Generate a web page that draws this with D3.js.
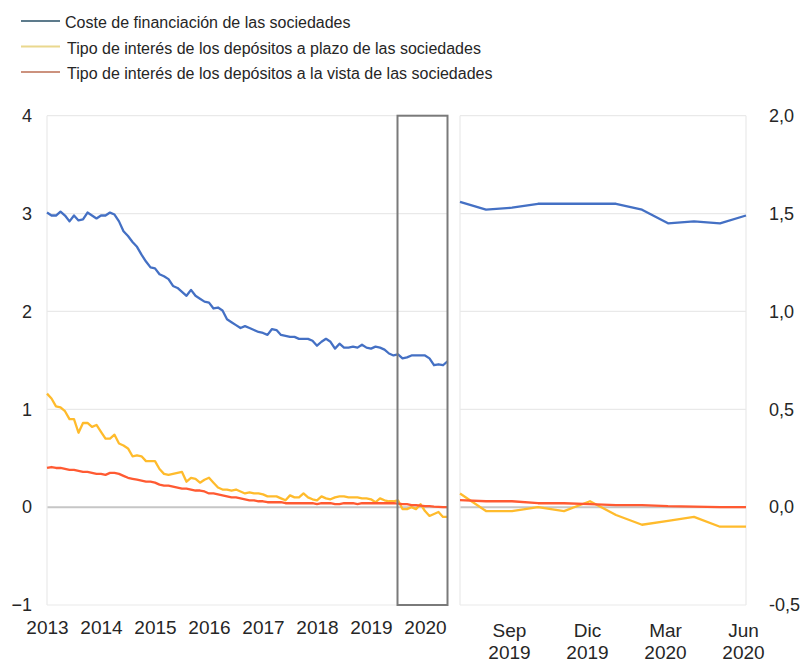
<!DOCTYPE html>
<html>
<head>
<meta charset="utf-8">
<script src="https://cdn.jsdelivr.net/npm/d3@7/dist/d3.min.js"></script>
<style>
  body { margin: 0; background: #fff; }
  svg { font-family: "Liberation Sans", Arial, sans-serif; }
</style>
</head>
<body>
<svg id="chart" width="803" height="662"></svg>
<script>
// monthly values, Jan 2013 .. Jun 2020
var coste = [3.01, 2.98, 2.98, 3.02, 2.98, 2.92, 2.98, 2.93, 2.94, 3.01, 2.98, 2.95,
             2.98, 2.98, 3.01, 2.99, 2.92, 2.82, 2.77, 2.71, 2.66, 2.58, 2.51, 2.45,
             2.44, 2.38, 2.36, 2.33, 2.26, 2.24, 2.20, 2.16, 2.22, 2.16, 2.13, 2.10,
             2.09, 2.03, 2.04, 2.01, 1.92, 1.89, 1.86, 1.83, 1.85, 1.83, 1.81, 1.79,
             1.78, 1.76, 1.82, 1.81, 1.76, 1.75, 1.74, 1.74, 1.72, 1.72, 1.72, 1.70,
             1.65, 1.69, 1.72, 1.69, 1.62, 1.67, 1.63, 1.63, 1.64, 1.63, 1.66, 1.63,
             1.62, 1.64, 1.63, 1.61, 1.57, 1.55, 1.56, 1.52, 1.53, 1.55, 1.55, 1.55,
             1.55, 1.52, 1.45, 1.46, 1.45, 1.49];
var plazo = [1.16, 1.11, 1.03, 1.02, 0.98, 0.90, 0.90, 0.76, 0.86, 0.86, 0.82, 0.84,
             0.77, 0.70, 0.70, 0.74, 0.65, 0.63, 0.60, 0.52, 0.53, 0.52, 0.47, 0.47,
             0.47, 0.39, 0.34, 0.33, 0.34, 0.35, 0.36, 0.26, 0.30, 0.29, 0.25, 0.28,
             0.30, 0.25, 0.20, 0.18, 0.18, 0.17, 0.18, 0.16, 0.14, 0.15, 0.14, 0.14,
             0.13, 0.11, 0.11, 0.11, 0.09, 0.07, 0.12, 0.10, 0.10, 0.14, 0.10, 0.08,
             0.07, 0.11, 0.09, 0.08, 0.10, 0.11, 0.11, 0.10, 0.10, 0.10, 0.09, 0.09,
             0.08, 0.05, 0.09, 0.07, 0.06, 0.06, 0.07, -0.02, -0.02, 0.00, -0.02, 0.03,
             -0.04, -0.09, -0.07, -0.05, -0.10, -0.10];
var vista = [0.40, 0.41, 0.40, 0.40, 0.39, 0.38, 0.38, 0.37, 0.36, 0.36, 0.35, 0.34,
             0.34, 0.33, 0.35, 0.35, 0.34, 0.32, 0.30, 0.29, 0.28, 0.27, 0.26, 0.26,
             0.25, 0.23, 0.22, 0.22, 0.21, 0.20, 0.19, 0.19, 0.18, 0.17, 0.17, 0.16,
             0.14, 0.14, 0.13, 0.12, 0.11, 0.10, 0.10, 0.09, 0.08, 0.07, 0.07, 0.06,
             0.06, 0.05, 0.05, 0.05, 0.05, 0.04, 0.04, 0.04, 0.04, 0.04, 0.04, 0.04,
             0.03, 0.04, 0.04, 0.04, 0.03, 0.03, 0.04, 0.04, 0.04, 0.03, 0.04, 0.04,
             0.04, 0.04, 0.04, 0.04, 0.04, 0.04, 0.036, 0.03, 0.03, 0.02, 0.02, 0.015,
             0.01, 0.01, 0.005, 0.003, 0.0, 0.0];

var yearLabels = ["2013", "2014", "2015", "2016", "2017", "2018", "2019", "2020"];
var leftTicks = [4, 3, 2, 1, 0, -1];
var rightTicks = [2.0, 1.5, 1.0, 0.5, 0.0, -0.5];
var zoomMonths = ["Sep", "Dic", "Mar", "Jun"];
var zoomYears = ["2019", "2019", "2020", "2020"];
var zoomTickIdx = [2, 5, 8, 11];
var zoomStart = 78; // Jul 2019

var series = [
    { name: "Coste de financiación de las sociedades", values: coste, color: "#4470c4", legend: "#5d7b8c" },
    { name: "Tipo de interés de los depósitos a plazo de las sociedades", values: plazo, color: "#ffbb2c", legend: "#ead88e" },
    { name: "Tipo de interés de los depósitos a la vista de las sociedades", values: vista, color: "#ff5a32", legend: "#cc927e" }
];

var svg = d3.select("#chart");
var textColor = "#262626";
var fontFam = "Liberation Sans, Arial, sans-serif";

// legend
var legend = svg.append("g");
series.forEach(function (s, i) {
    legend.append("line")
        .attr("x1", 21).attr("x2", 60)
        .attr("y1", 21 + i * 25.5).attr("y2", 21 + i * 25.5)
        .style("stroke", s.legend).style("stroke-width", 2);
    legend.append("text")
        .attr("x", i == 0 ? 65 : 67)
        .attr("y", 28 + i * 25.5)
        .style("font-size", "16px")
        .style("fill", textColor)
        .text(s.name);
});

// scales
var plotTop = 115.7, plotBottom = 605;
var yL = d3.scaleLinear().domain([-1, 4]).range([plotBottom, plotTop]);
var yR = d3.scaleLinear().domain([-0.5, 2]).range([plotBottom, plotTop]);
var xL = d3.scaleLinear().domain([0, 89]).range([47, 447.5]);
var xR = d3.scaleLinear().domain([0, 11]).range([460, 746]);

var gridColor = "#e9e9e9";

// left grid
var gl = svg.append("g");
gl.selectAll("line.grid").data(leftTicks).enter().append("line")
    .attr("x1", xL(0)).attr("x2", xL(89))
    .attr("y1", function (d) { return yL(d); })
    .attr("y2", function (d) { return yL(d); })
    .style("stroke", function (d) { return d === 0 ? "#c6c6c6" : gridColor; })
    .style("stroke-width", function (d) { return d === 0 ? 2 : 1.2; });
gl.append("line")
    .attr("x1", xL(0)).attr("x2", xL(0)).attr("y1", plotTop).attr("y2", plotBottom)
    .style("stroke", gridColor).style("stroke-width", 1.2);

// right grid
var gr = svg.append("g");
gr.selectAll("line.grid").data(rightTicks).enter().append("line")
    .attr("x1", xR(0)).attr("x2", xR(11))
    .attr("y1", function (d) { return yR(d); })
    .attr("y2", function (d) { return yR(d); })
    .style("stroke", function (d) { return d === 0 ? "#c6c6c6" : gridColor; })
    .style("stroke-width", function (d) { return d === 0 ? 2 : 1.2; });
[0, 11].forEach(function (j) {
    gr.append("line")
        .attr("x1", xR(j)).attr("x2", xR(j)).attr("y1", plotTop).attr("y2", plotBottom)
        .style("stroke", gridColor).style("stroke-width", 1.2);
});

// axes labels
svg.append("g").attr("transform", "translate(32,0)")
    .call(d3.axisLeft(yL).tickValues(leftTicks).tickSize(0).tickPadding(0)
        .tickFormat(function (d) { return d < 0 ? "\u2212" + Math.abs(d) : d; }))
    .call(function (g) { g.select(".domain").remove(); })
    .selectAll("text")
    .style("font-size", "18px").style("fill", textColor).style("font-family", fontFam);

svg.append("g").attr("transform", "translate(769,0)")
    .call(d3.axisRight(yR).tickValues(rightTicks).tickSize(0).tickPadding(0)
        .tickFormat(function (d) { return (d < 0 ? "-" : "") + Math.abs(d).toFixed(1).replace(".", ","); }))
    .call(function (g) { g.select(".domain").remove(); })
    .selectAll("text")
    .style("font-size", "18px").style("fill", textColor).style("font-family", fontFam);

svg.append("g").attr("transform", "translate(0,620)")
    .call(d3.axisBottom(xL).tickValues(d3.range(0, 90, 12)).tickSize(0).tickPadding(0)
        .tickFormat(function (d, i) { return yearLabels[i]; }))
    .call(function (g) { g.select(".domain").remove(); })
    .selectAll("text")
    .style("font-size", "19px").style("fill", textColor).style("font-family", fontFam);

var xt = svg.append("g").attr("transform", "translate(0,620)")
    .call(d3.axisBottom(xR).tickValues(zoomTickIdx).tickSize(0).tickPadding(0).tickFormat(""))
    .call(function (g) { g.select(".domain").remove(); });
xt.selectAll(".tick text").each(function (d, i) {
    var t = d3.select(this).attr("dy", null).attr("y", 0)
        .style("font-size", "19px").style("fill", textColor)
        .style("font-family", fontFam);
    t.append("tspan").attr("x", -3).attr("y", 17).text(zoomMonths[i]);
    t.append("tspan").attr("x", -3).attr("y", 39).text(zoomYears[i]);
});

// lines
var lineL = d3.line().x(function (d, i) { return xL(i); }).y(function (d) { return yL(d); });
var lineR = d3.line().x(function (d, i) { return xR(i); }).y(function (d) { return yR(d); });

var drawOrder = [series[1], series[2], series[0]];
drawOrder.forEach(function (s) {
    svg.append("path").datum(s.values)
        .attr("d", lineL)
        .style("fill", "none").style("stroke", s.color).style("stroke-width", 2.3)
        .style("stroke-linejoin", "round");
    svg.append("path").datum(s.values.slice(zoomStart))
        .attr("d", lineR)
        .style("fill", "none").style("stroke", s.color).style("stroke-width", 2.3)
        .style("stroke-linejoin", "round");
});

// highlight box for zoomed period
svg.append("rect")
    .attr("x", xL(zoomStart) - 0.5).attr("y", plotTop)
    .attr("width", xL(89) - xL(zoomStart) + 0.5).attr("height", plotBottom - plotTop)
    .style("fill", "none").style("stroke", "#7a7a7a").style("stroke-width", 2);
</script>
</body>
</html>
